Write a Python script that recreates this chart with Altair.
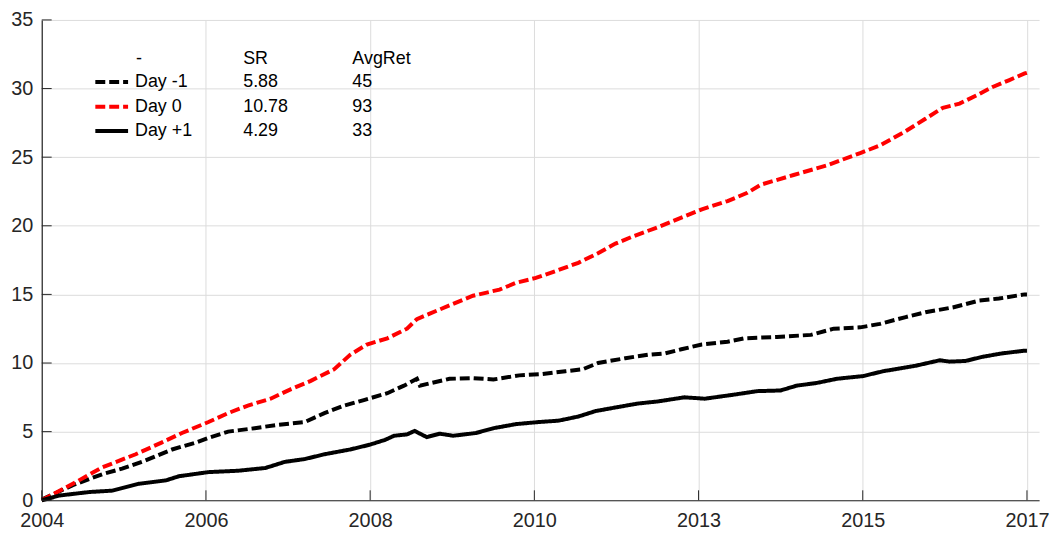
import altair as alt
import pandas as pd

# cumulative returns (decimal year, value)
day_m1_year = [2004.00, 2004.41, 2004.80, 2005.06, 2005.37, 2005.72, 2006.03, 2006.20,
               2006.46, 2006.81, 2007.12, 2007.47, 2007.73, 2007.99, 2008.25, 2008.56,
               2008.78, 2008.95, 2008.99, 2009.38, 2009.69, 2009.96, 2010.30, 2010.61,
               2010.91, 2011.14, 2011.34, 2011.70, 2012.00, 2012.22, 2012.44, 2012.71,
               2013.05, 2013.27, 2013.70, 2014.15, 2014.45, 2014.80, 2015.06, 2015.40,
               2015.66, 2016.02, 2016.37, 2016.63, 2016.97, 2017.00]
day_m1_val = [0.05, 1.1, 1.9, 2.3, 2.9, 3.7, 4.2, 4.55,
              5.0, 5.25, 5.5, 5.7, 6.35, 6.9, 7.3, 7.8,
              8.35, 8.85, 8.35, 8.85, 8.9, 8.8, 9.1, 9.2,
              9.4, 9.55, 10.0, 10.35, 10.6, 10.7, 11.0, 11.35,
              11.55, 11.8, 11.9, 12.05, 12.5, 12.6, 12.85, 13.35,
              13.7, 14.05, 14.55, 14.7, 15.0, 15.0]

day_0_year = [2004.00, 2004.41, 2004.80, 2005.24, 2005.58, 2005.85, 2006.20, 2006.46,
              2006.72, 2007.02, 2007.29, 2007.55, 2007.86, 2008.07, 2008.29, 2008.56,
              2008.82, 2008.95, 2009.12, 2009.38, 2009.69, 2010.04, 2010.26, 2010.52,
              2010.78, 2011.08, 2011.34, 2011.57, 2011.79, 2012.13, 2012.44, 2012.71,
              2013.05, 2013.31, 2013.49, 2013.92, 2014.36, 2014.80, 2015.06, 2015.40,
              2015.66, 2015.89, 2016.11, 2016.37, 2016.54, 2016.76, 2016.97, 2017.00]
day_0_val = [0.0, 1.2, 2.4, 3.35, 4.2, 4.9, 5.7, 6.35,
             6.9, 7.4, 8.1, 8.7, 9.55, 10.6, 11.35, 11.8,
             12.5, 13.2, 13.6, 14.2, 14.9, 15.35, 15.85, 16.2,
             16.7, 17.3, 18.0, 18.7, 19.2, 19.9, 20.6, 21.2,
             21.8, 22.4, 23.0, 23.7, 24.4, 25.3, 25.85, 26.9,
             27.8, 28.6, 28.9, 29.6, 30.1, 30.6, 31.1, 31.15]

day_p1_year = [2004.00, 2004.24, 2004.63, 2004.93, 2005.28, 2005.64, 2005.81, 2006.20,
               2006.59, 2006.95, 2007.21, 2007.47, 2007.73, 2008.07, 2008.33, 2008.53,
               2008.65, 2008.82, 2008.92, 2009.08, 2009.25, 2009.43, 2009.73, 2009.96,
               2010.26, 2010.56, 2010.82, 2011.08, 2011.31, 2011.61, 2011.87, 2012.13,
               2012.48, 2012.75, 2013.14, 2013.44, 2013.75, 2013.96, 2014.23, 2014.49,
               2014.84, 2015.10, 2015.53, 2015.85, 2015.98, 2016.19, 2016.41, 2016.67,
               2016.97, 2017.00]
day_p1_val = [0.0, 0.35, 0.6, 0.7, 1.2, 1.45, 1.75, 2.05,
              2.15, 2.35, 2.8, 3.0, 3.35, 3.7, 4.05, 4.4,
              4.7, 4.8, 5.05, 4.6, 4.85, 4.7, 4.9, 5.25,
              5.55, 5.7, 5.8, 6.1, 6.5, 6.8, 7.05, 7.2,
              7.5, 7.4, 7.7, 7.95, 8.0, 8.35, 8.55, 8.85,
              9.05, 9.4, 9.8, 10.2, 10.1, 10.15, 10.45, 10.7,
              10.9, 10.9]

series_names = ["Day -1", "Day 0", "Day +1"]
sr_values = ["5.88", "10.78", "4.29"]
avgret_values = ["45", "93", "33"]
series_colors = ["#000000", "#ff0000", "#000000"]

# x ticks are evenly spaced over 2004..2017, labelled with the year
x_ticks = [2004 + k * 13 / 6 for k in range(7)]
x_tick_labels = ["2004", "2006", "2008", "2010", "2013", "2015", "2017"]
y_ticks = [0, 5, 10, 15, 20, 25, 30, 35]

frames = []
for name, yrs, vals in [("Day -1", day_m1_year, day_m1_val),
                        ("Day 0", day_0_year, day_0_val),
                        ("Day +1", day_p1_year, day_p1_val)]:
    frames.append(pd.DataFrame({"year": yrs, "ret": vals, "series": name}))
df = pd.concat(frames, ignore_index=True)

W, H = 1005, 484
FONT = "Liberation Sans"
AX = "#262626"
GRID = "#dcdcdc"
dash_range = [[10, 4], [10, 4], [1, 0]]

label_expr = "[" + ",".join("'%s'" % s for s in x_tick_labels) + "][round((datum.value - 2004) * 6 / 13)]"

lines = alt.Chart(df).mark_line(strokeWidth=4, strokeCap="butt").encode(
    x=alt.X("year:Q", scale=alt.Scale(domain=[2004, 2017.16], nice=False, zero=False),
            axis=alt.Axis(values=x_ticks, labelExpr=label_expr, title=None,
                          grid=True, gridColor=GRID, ticks=False, tickSize=0,
                          labelFont=FONT, labelFontSize=20, labelColor=AX,
                          labelPadding=10, domainColor=AX, domainWidth=1.2,
                          labelFlush=False, labelOverlap=False)),
    y=alt.Y("ret:Q", scale=alt.Scale(domain=[0, 35], nice=False),
            axis=alt.Axis(values=y_ticks, title=None, grid=True, gridColor=GRID,
                          ticks=False, tickSize=0, labelFont=FONT, labelFontSize=20,
                          labelColor=AX, labelPadding=9, domainColor=AX, domainWidth=1.2)),
    color=alt.Color("series:N", scale=alt.Scale(domain=series_names, range=series_colors),
                    legend=None),
    strokeDash=alt.StrokeDash("series:N", scale=alt.Scale(domain=series_names, range=dash_range),
                              legend=None),
    order=alt.Order("year:Q"),
)

# inward ticks, MATLAB style
xt = alt.Chart(pd.DataFrame({"t": x_ticks})).mark_rule(color=AX, strokeWidth=1).encode(
    x="t:Q", y=alt.value(H), y2=alt.value(H - 10))
yt = alt.Chart(pd.DataFrame({"v": y_ticks})).mark_rule(color=AX, strokeWidth=1).encode(
    y="v:Q", x=alt.value(0), x2=alt.value(10))

# table-like legend in the upper left
one = pd.DataFrame({"a": [0]})
leg = []
col_name, col_sr, col_avg = 94, 203, 313
row_y = [39, 62.5, 87.5, 112]


def txt(s, x, y):
    return alt.Chart(one).mark_text(text=s, align="left", baseline="middle", font=FONT,
                                    fontSize=18, color="#000000").encode(
        x=alt.value(x), y=alt.value(y))


leg.append(txt("-", col_name + 1, row_y[0]))
leg.append(txt("SR", col_sr, row_y[0]))
leg.append(txt("AvgRet", col_avg, row_y[0]))
for i in range(3):
    y = row_y[i + 1]
    leg.append(alt.Chart(one).mark_rule(color=series_colors[i], strokeWidth=4,
                                        strokeDash=dash_range[i], strokeCap="butt").encode(
        x=alt.value(54), x2=alt.value(87), y=alt.value(y)))
    leg.append(txt(series_names[i], col_name, y))
    leg.append(txt(sr_values[i], col_sr, y))
    leg.append(txt(avgret_values[i], col_avg, y))

chart = alt.layer(lines, xt, yt, *leg).properties(
    width=W, height=H, autosize="none",
    padding={"left": 34, "top": 10, "right": 12, "bottom": 34},
).configure_view(stroke=None)

chart.save("out.html", embed_options={"renderer": "svg", "actions": False})
